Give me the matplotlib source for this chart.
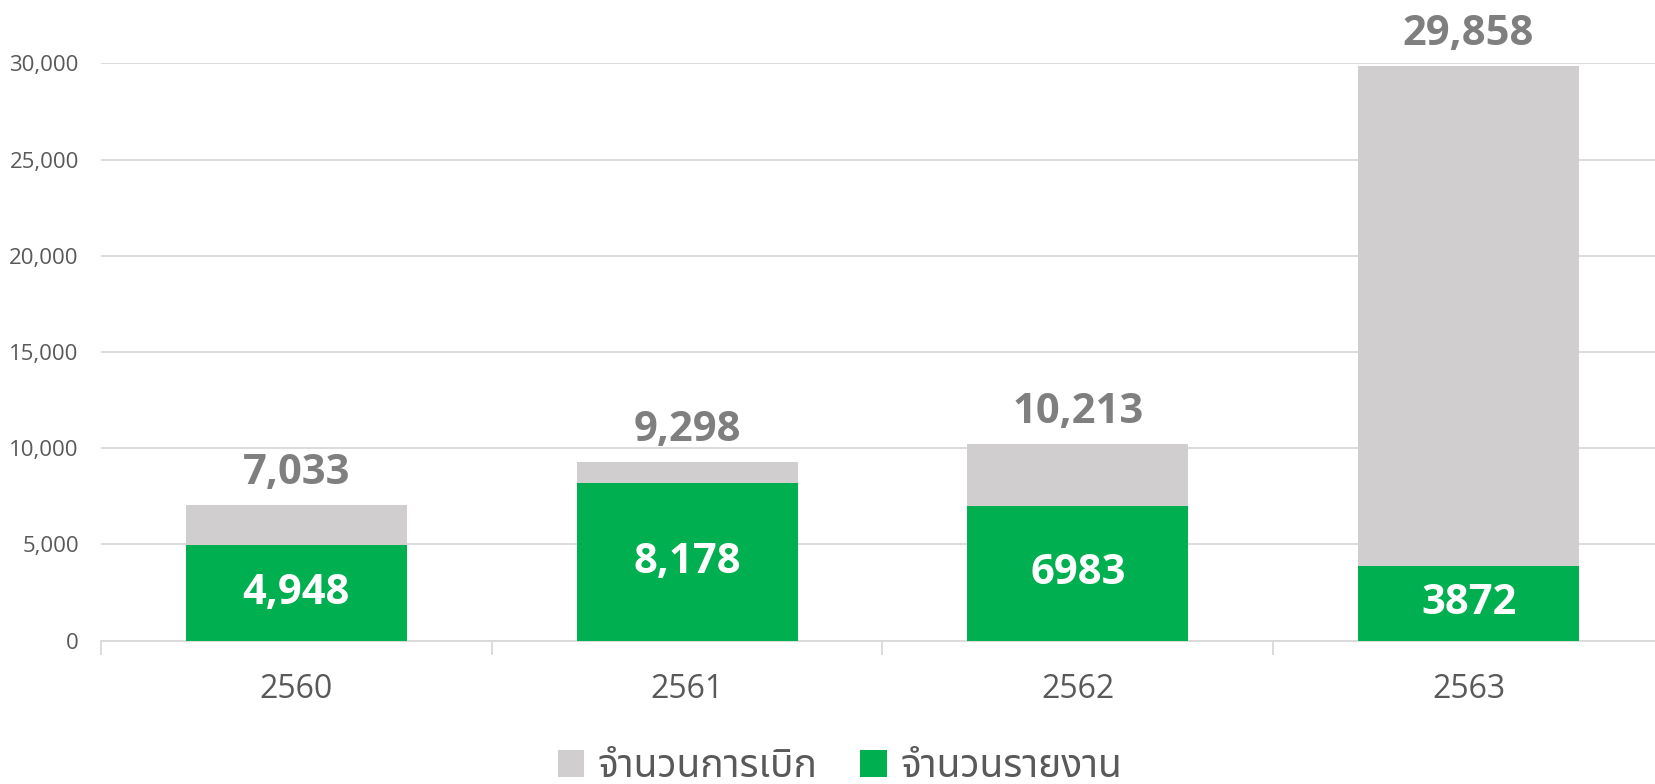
import matplotlib
matplotlib.use("Agg")
import matplotlib.pyplot as plt
from matplotlib.patches import Patch

# ---- data ----
years = ["2560", "2561", "2562", "2563"]
withdrawn = [7033, 9298, 10213, 29858]        # จำนวนการเบิก
reported = [4948, 8178, 6983, 3872]            # จำนวนรายงาน
withdrawn_labels = ["7,033", "9,298", "10,213", "29,858"]
reported_labels = ["4,948", "8,178", "6983", "3872"]
legend_labels = ["จำนวนการเบิก", "จำนวนรายงาน"]
yticks = [0, 5000, 10000, 15000, 20000, 25000, 30000]

num_font = "Open Sans"
thai_font = "Noto Sans Thai"
plt.rcParams['font.family'] = [num_font, thai_font, "DejaVu Sans"]

GRAY = "#D0CECE"
GREEN = "#00B050"
TXT = "#595959"
LBL = "#7F7F7F"

W, H = 1655, 784
fig = plt.figure(figsize=(W / 100, H / 100), dpi=100)
ax = fig.add_axes([101 / W, 1 - 640.7 / H, 1563 / W, (640.7 - 63.3) / H])

x = list(range(len(years)))
w = 0.565
ax.bar(x, withdrawn, width=w, color=GRAY, zorder=2)
ax.bar(x, reported, width=w, color=GREEN, zorder=3)

ax.set_xlim(-0.5, len(years) - 0.5)
ax.set_ylim(0, 30000)
ax.set_yticks(yticks)
ax.set_yticklabels([f"{v:,}" for v in yticks], fontsize=16, color=TXT, family=[num_font])
ax.yaxis.grid(True, color="#D9D9D9", linewidth=1.3, zorder=0)
ax.set_axisbelow(True)
ax.tick_params(axis='y', length=0, pad=16)

ax.set_xticks(x)
ax.set_xticklabels(years, fontsize=23, color=TXT, family=[num_font])
ax.set_xticks([i - 0.5 for i in range(len(years) + 1)], minor=True)
ax.tick_params(axis='x', which='major', length=0, pad=23)
ax.tick_params(axis='x', which='minor', length=10, color="#D9D9D9", width=1.3)

for s in ["top", "right", "left"]:
    ax.spines[s].set_visible(False)
ax.spines["bottom"].set_color("#D9D9D9")
ax.spines["bottom"].set_linewidth(1.3)

for xi, v, lab in zip(x, withdrawn, withdrawn_labels):
    ax.annotate(lab, (xi, v), xytext=(0, 8), textcoords="offset points",
                ha="center", va="bottom", fontsize=30, fontweight="bold",
                color=LBL, annotation_clip=False, family=[num_font])
for xi, v, lab in zip(x, reported, reported_labels):
    ax.text(xi, v / 2, lab, ha="center", va="center", fontsize=30,
            fontweight="bold", color="white", zorder=4, family=[num_font])

handles = [Patch(facecolor=GRAY), Patch(facecolor=GREEN)]
leg = fig.legend(handles, legend_labels, loc="center", bbox_to_anchor=(840 / W, 1 - 767 / H),
                 ncol=2, frameon=False, prop={'family': [thai_font, "DejaVu Sans"], 'size': 28},
                 handlelength=0.68, handleheight=0.72,
                 handletextpad=0.35, columnspacing=1.1, borderpad=0, borderaxespad=0)
for t in leg.get_texts():
    t.set_color(TXT)

fig.savefig("out.png", dpi=100)
